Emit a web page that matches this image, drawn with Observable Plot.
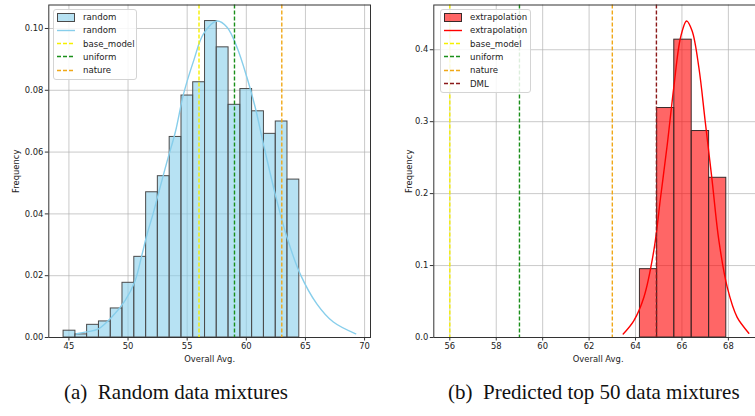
<!DOCTYPE html>
<html><head><meta charset="utf-8">
<script src="https://cdn.jsdelivr.net/npm/d3@7"></script>
<script src="https://cdn.jsdelivr.net/npm/@observablehq/plot@0.6"></script>
<style>
body{margin:0;background:#fff;}
#fig{position:relative;width:755px;height:416px;overflow:hidden;background:#fff;font-family:"DejaVu Sans",sans-serif;}
.panel{position:absolute;top:0;}
.legend{position:absolute;border:1px solid #d4d4d4;border-radius:3px;background:rgba(255,255,255,0.85);box-sizing:border-box;}
.row{position:absolute;left:0;height:12px;display:flex;align-items:center;font-size:8.6px;color:#222;white-space:nowrap;}
.row svg{margin-left:3px;margin-right:8px;}
.cap{position:absolute;font-family:"Liberation Serif",serif;font-size:21px;color:#111;white-space:nowrap;line-height:1;}
</style></head>
<body><div id="fig"></div>
<script>
// ---- Data: (a) Random data mixtures ----
const leftBinEdges = [44.55, 45.55, 46.54, 47.54, 48.54, 49.53, 50.53, 51.53, 52.52, 53.52, 54.52, 55.51, 56.51, 57.50, 58.50, 59.50, 60.49, 61.49, 62.49, 63.48, 64.48];
const leftFreq = [0.0022, 0.0010, 0.0041, 0.0052, 0.0094, 0.0177, 0.0261, 0.0470, 0.0522, 0.0649, 0.0783, 0.0826, 0.1024, 0.0939, 0.0753, 0.0804, 0.0732, 0.0659, 0.0699, 0.0511];
const leftKdeX = [45.65, 46.5, 47.5, 48.63, 49.76, 50.6, 51.16, 51.58, 52.15, 52.6, 53.3, 54.0, 54.7, 55.55, 56.39, 57.52, 58.37, 59.2, 60.05, 60.75, 61.45, 62.58, 63.43, 64.55, 65.96, 67.36, 69.25];
const leftKdeY = [0.0012, 0.0018, 0.0028, 0.0066, 0.012, 0.0184, 0.0265, 0.033, 0.0405, 0.047, 0.057, 0.0665, 0.0789, 0.0896, 0.0983, 0.1024, 0.1004, 0.094, 0.0842, 0.0745, 0.0625, 0.0443, 0.0325, 0.0206, 0.0109, 0.005, 0.0012];
const leftRefNames = ["base_model", "uniform", "nature"];
const leftRefValues = [56.0, 59.0, 63.0];
const leftXTicks = [45, 50, 55, 60, 65, 70];
const leftYTicks = [0, 0.02, 0.04, 0.06, 0.08, 0.10];

// ---- Data: (b) Predicted top 50 data mixtures ----
const rightBinEdges = [64.19, 64.93, 65.67, 66.42, 67.17, 67.91];
const rightFreq = [0.095, 0.319, 0.414, 0.287, 0.222];
const rightKdeX = [63.47, 63.93, 64.36, 64.79, 65.08, 65.37, 65.65, 65.94, 66.2, 66.44, 66.73, 67.0, 67.3, 67.59, 67.95, 68.38, 68.88];
const rightKdeY = [0.005, 0.0236, 0.056, 0.121, 0.195, 0.269, 0.348, 0.417, 0.44, 0.426, 0.375, 0.301, 0.218, 0.135, 0.07, 0.028, 0.006];
const rightRefNames = ["base_model", "uniform", "nature", "DML"];
const rightRefValues = [56.0, 59.0, 63.0, 64.9];
const rightXTicks = [56, 58, 60, 62, 64, 66, 68];
const rightYTicks = [0, 0.1, 0.2, 0.3, 0.4];

const refColors = {base_model: "#f5f000", uniform: "#1a8f1a", nature: "#f0a818", DML: "#8b1a1a"};

function panel(o) {
  const bins = o.freq.map((f, i) => ({x1: o.edges[i], x2: o.edges[i + 1], y: f}));
  const kde = o.kx.map((x, i) => ({x, y: o.ky[i]}));
  const refs = o.refNames.map((n, i) => ({name: n, x: o.refValues[i]}));
  return Plot.plot({
    width: o.width, height: 372,
    marginLeft: o.mL, marginRight: o.mR, marginTop: 4.5, marginBottom: 35,
    style: {fontFamily: "DejaVu Sans", fontSize: "8.4px", color: "#222", background: "transparent", overflow: "visible"},
    x: {domain: o.xDomain},
    y: {domain: o.yDomain},
    marks: [
      Plot.gridX(o.xTicks, {stroke: "#b0b0b0", strokeOpacity: 0.75, strokeWidth: 0.9}),
      Plot.gridY(o.yTicks, {stroke: "#b0b0b0", strokeOpacity: 0.75, strokeWidth: 0.9}),
      Plot.rectY(bins, {x1: "x1", x2: "x2", y: "y", fill: o.fill, fillOpacity: 0.6, stroke: o.edge, strokeWidth: 1}),
      Plot.line(kde, {x: "x", y: "y", stroke: o.kColor, strokeWidth: 1.4, curve: "catmull-rom"}),
      Plot.ruleX(refs, {x: "x", stroke: d => refColors[d.name], strokeWidth: 1.4, strokeDasharray: "4,2"}),
      Plot.frame({stroke: "#333", strokeWidth: 1}),
      Plot.axisX(o.xTicks, {tickSize: 3.5, tickPadding: 2, tickFormat: d => String(d), label: "Overall Avg.", labelAnchor: "center", labelArrow: "none", labelOffset: 24, stroke: "#333"}),
      Plot.axisY(o.yTicks, {tickSize: 3.5, tickPadding: 2, tickFormat: o.yFmt, label: "Frequency", labelAnchor: "center", labelArrow: "none", labelOffset: o.labelOffset, stroke: "#333"})
    ]
  });
}

const fig = document.getElementById("fig");

const left = panel({
  width: 377, mL: 48.3, mR: 7, xDomain: [43.3, 70.5], yDomain: [0, 0.1076],
  edges: leftBinEdges, freq: leftFreq, fill: "#87CEEB", edge: "#4a4a4a",
  kx: leftKdeX, ky: leftKdeY, kColor: "#87CEEB",
  refNames: leftRefNames, refValues: leftRefValues,
  xTicks: leftXTicks, yTicks: leftYTicks, yFmt: d3.format(".2f"), labelOffset: 36
});
left.classList.add("panel"); left.style.left = "0px";
fig.appendChild(left);

const right = panel({
  width: 390, mL: 53.3, mR: 8, xDomain: [55.31, 69.47], yDomain: [0, 0.4622],
  edges: rightBinEdges, freq: rightFreq, fill: "#ff0000", edge: "#3a2a2a",
  kx: rightKdeX, ky: rightKdeY, kColor: "#ff0000",
  refNames: rightRefNames, refValues: rightRefValues,
  xTicks: rightXTicks, yTicks: rightYTicks, yFmt: d3.format(".1f"), labelOffset: 28
});
right.classList.add("panel"); right.style.left = "380px";
fig.appendChild(right);

// ---- Legends ----
function legend(x, y, w, entries) {
  const box = document.createElement("div");
  box.className = "legend";
  box.style.left = x + "px"; box.style.top = y + "px";
  box.style.width = w + "px"; box.style.height = (entries.length * 13.3 + 4) + "px";
  entries.forEach((e, i) => {
    const r = document.createElement("div");
    r.className = "row";
    r.style.top = (1 + i * 13.3) + "px";
    let icon;
    if (e.type === "patch") icon = `<svg width="18" height="9"><rect x="0.5" y="0.5" width="17" height="8" fill="${e.color}" fill-opacity="0.6" stroke="${e.edge}" stroke-width="1"/></svg>`;
    else if (e.type === "line") icon = `<svg width="18" height="9"><line x1="0" x2="18" y1="4.5" y2="4.5" stroke="${e.color}" stroke-width="1.4"/></svg>`;
    else icon = `<svg width="18" height="9"><line x1="0" x2="18" y1="4.5" y2="4.5" stroke="${e.color}" stroke-width="1.4" stroke-dasharray="4,2"/></svg>`;
    r.innerHTML = icon + `<span>${e.label}</span>`;
    box.appendChild(r);
  });
  fig.appendChild(box);
}
legend(53, 9, 84, [
  {type: "patch", label: "random", color: "#87CEEB", edge: "#4a4a4a"},
  {type: "line", label: "random", color: "#87CEEB"},
  ...leftRefNames.map(n => ({type: "dash", label: n, color: refColors[n]}))
]);
legend(440, 9, 91, [
  {type: "patch", label: "extrapolation", color: "#ff0000", edge: "#3a2a2a"},
  {type: "line", label: "extrapolation", color: "#ff0000"},
  ...rightRefNames.map(n => ({type: "dash", label: n, color: refColors[n]}))
]);

// ---- Captions ----
function caption(x, text) {
  const c = document.createElement("div");
  c.className = "cap";
  c.style.left = x + "px"; c.style.top = "382px";
  c.textContent = text;
  fig.appendChild(c);
}
caption(64, "(a)\u2002Random data mixtures");
caption(448, "(b)\u2002Predicted top 50 data mixtures");
</script>
</body></html>
